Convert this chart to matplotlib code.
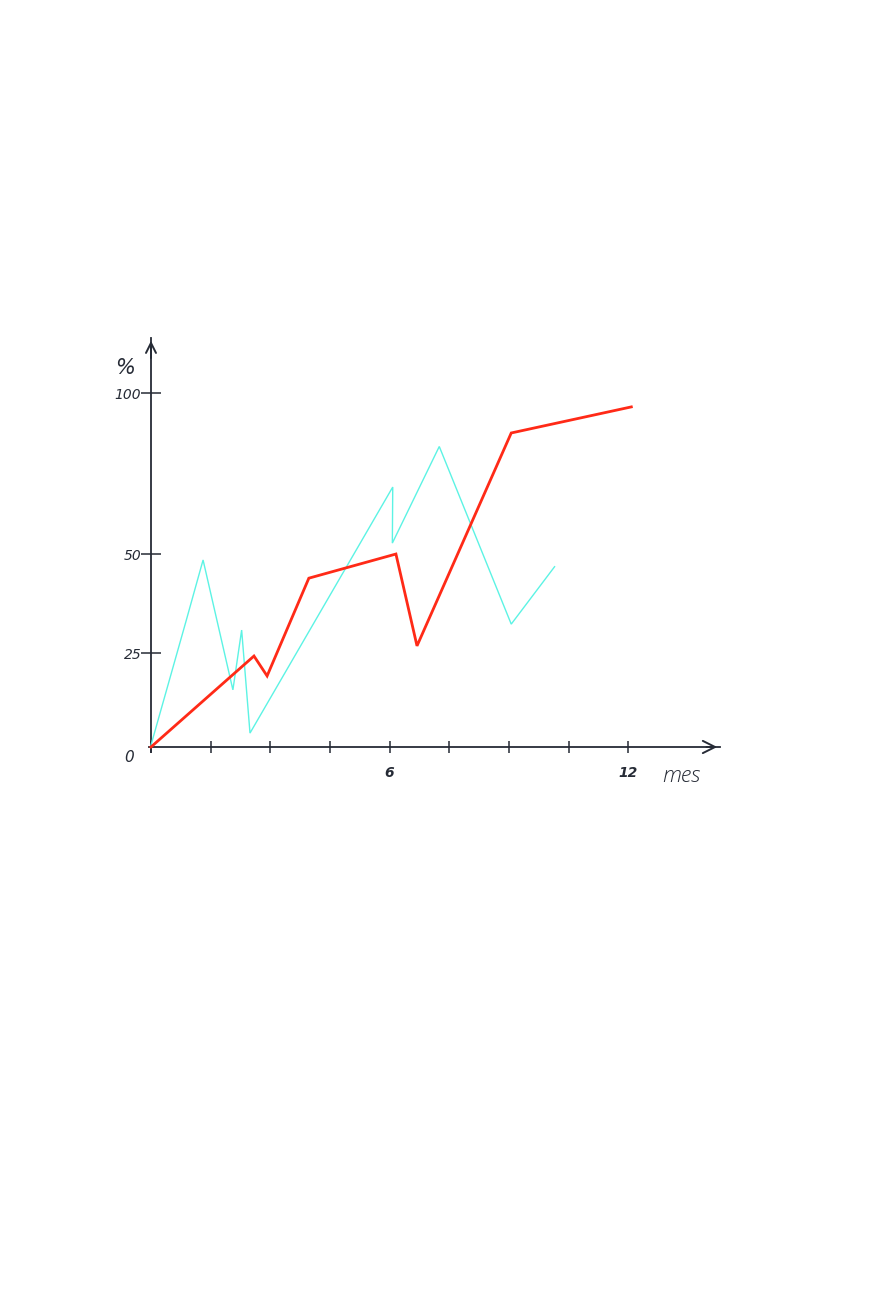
import numpy as np
import matplotlib
matplotlib.use("Agg")
import matplotlib.pyplot as plt

# ---- data (months, percent) ----
red_x = [0.0, 2.59, 2.92, 3.97, 6.16, 6.69, 9.06, 12.08]
red_y = [0.0, 24.2, 18.9, 43.9, 50.0, 26.8, 87.6, 95.7]

cyan_x = [0.0, 0.88, 1.31, 2.06, 2.28, 2.49, 6.08, 6.07, 7.25, 9.06, 10.15]
cyan_y = [0.5, 33.0, 48.5, 15.2, 30.8, 3.7, 70.8, 53.4, 83.4, 32.3, 46.8]

x_ticks = [0, 1.5, 3, 4.5, 6, 7.5, 9, 10.5, 12]
x_ticklabels = ["", "", "", "", "6", "", "", "", "12"]
y_ticks = [25, 50, 100]
y_ticklabels = ["25", "50", "100"]

# hand-drawn (uneven) vertical scale
knots_v = np.array([-50, 0, 25, 50, 100, 200])
knots_p = np.array([-188, 0, 94, 193, 354, 676])

def fwd(v):
    return np.interp(v, knots_v, knots_p)

def inv(p):
    return np.interp(p, knots_p, knots_v)

axcol = "#262b36"
W, H = 869, 1302
fig = plt.figure(figsize=(W / 100, H / 100), dpi=100)
ax = fig.add_axes([149 / W, 550 / H, 571 / W, 414 / H])
ax.set_yscale("function", functions=(fwd, inv))
ax.set_xlim(-0.05, 14.31)
ax.set_ylim(-1.33, 117.1)

for s in ["top", "right"]:
    ax.spines[s].set_visible(False)
ax.spines["bottom"].set_position(("data", 0))
ax.spines["left"].set_position(("data", 0))
ax.spines["bottom"].set_color(axcol)
ax.spines["left"].set_color(axcol)
ax.spines["bottom"].set_linewidth(1.3)
ax.spines["left"].set_linewidth(1.3)

ax.set_xticks(x_ticks)
ax.set_xticklabels(x_ticklabels, fontsize=10, style="italic", color=axcol, fontweight="bold")
ax.set_yticks(y_ticks)
ax.set_yticklabels(y_ticklabels, fontsize=10, style="italic", color=axcol)
ax.yaxis.set_minor_locator(matplotlib.ticker.NullLocator())
ax.xaxis.set_minor_locator(matplotlib.ticker.NullLocator())
ax.tick_params(axis="x", direction="inout", length=9, width=1.1, color=axcol, pad=9)
ax.tick_params(axis="y", direction="inout", length=14, width=1.1, color=axcol, pad=0)

# arrowheads
ax.annotate("", xy=(14.31, 0), xytext=(13.9, 0),
            arrowprops=dict(arrowstyle="->", color=axcol, lw=1.4, mutation_scale=22))
ax.annotate("", xy=(0, 117.1), xytext=(0, 110),
            arrowprops=dict(arrowstyle="->", color=axcol, lw=1.4, mutation_scale=18),
            annotation_clip=False)

ax.plot(cyan_x, cyan_y, color="#5cf3e4", lw=1.0, solid_joinstyle="miter", zorder=3)
ax.plot(red_x, red_y, color="#ff2a17", lw=2.0, solid_joinstyle="miter", zorder=4)

ax.text(-0.55, -2.8, "0", fontsize=11, style="italic", color=axcol, ha="center", va="center")
ax.text(-0.65, 107.8, "%", fontsize=15, style="italic", color=axcol, ha="center", va="center")
ax.text(13.33, -7.6, "mes", fontsize=16, style="italic", color=axcol, ha="center", va="center",
        family="Open Sans", fontweight="light")

fig.savefig("out.png", dpi=100)
